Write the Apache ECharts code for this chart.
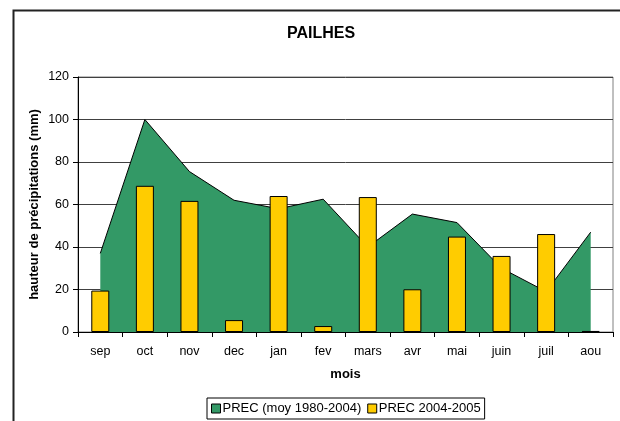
<!DOCTYPE html>
<html lang="fr">
<head>
<meta charset="utf-8">
<title>PAILHES</title>
<script src="https://cdn.jsdelivr.net/npm/echarts@6/dist/echarts.min.js"></script>
<style>
  html, body { margin: 0; padding: 0; background: #fff; }
  #main { width: 620px; height: 421px; }
</style>
</head>
<body>
<div id="main"></div>
<script type="text/javascript">
    // mois
    let months = ['sep', 'oct', 'nov', 'dec', 'jan', 'fev', 'mars', 'avr', 'mai', 'juin', 'juil', 'aou'];
    // PREC moyenne 1980-2004 (mm)
    let precMoy = [37, 100, 75.5, 62, 58, 62.5, 40, 55.5, 51.5, 30, 19, 47];
    // PREC 2004-2005 (mm)
    let prec0405 = [19.5, 68.8, 61.7, 5.6, 64, 2.8, 63.5, 20.1, 44.9, 35.8, 46.1, 0.5];

    let yTicks = { min: 0, max: 120, interval: 20 };

    let Chart = echarts.init(document.getElementById('main'));

    let labelFont = { fontFamily: '"Liberation Sans", Arial, sans-serif', color: '#000', fontSize: 12.5 };

    let option = {
        animation: false,
        backgroundColor: '#fff',
        textStyle: { fontFamily: '"Liberation Sans", Arial, sans-serif' },
        title: {
            text: 'PAILHES',
            left: 282,
            top: 21,
            textStyle: { fontSize: 16, fontWeight: 'bold', color: '#000', fontFamily: '"Liberation Sans", Arial, sans-serif' }
        },
        graphic: [{
            type: 'rect',
            left: 11, top: 8,
            shape: { width: 640, height: 440 },
            style: { fill: 'none', stroke: '#222', lineWidth: 2 },
            silent: true
        }],
        legend: {
            left: 207,
            top: 398,
            padding: [4, 4, 4, 4],
            itemGap: 6,
            itemWidth: 9,
            itemHeight: 9,
            borderColor: '#000',
            borderWidth: 1,
            textStyle: { fontSize: 13, color: '#000', padding: [0, 0, 0, -3] },
            data: [
                { name: 'PREC (moy 1980-2004)', icon: 'rect', itemStyle: { color: '#339966', borderColor: '#000', borderWidth: 1 } },
                { name: 'PREC 2004-2005', icon: 'rect', itemStyle: { color: '#FFCC00', borderColor: '#000', borderWidth: 1 } }
            ]
        },
        grid: {
            left: 78, right: 7, top: 77, bottom: 89,
            show: true, borderColor: '#808080', borderWidth: 1
        },
        xAxis: {
            type: 'category',
            data: months,
            boundaryGap: true,
            name: 'mois',
            nameLocation: 'middle',
            nameGap: 36,
            nameMoveOverlap: false,
            nameTextStyle: { fontWeight: 'bold', fontSize: 13, color: '#000' },
            axisLine: { lineStyle: { color: '#000', width: 1 } },
            axisTick: { show: true, length: 5, lineStyle: { color: '#000' } },
            axisLabel: Object.assign({ margin: 13 }, labelFont),
            splitLine: { show: false }
        },
        yAxis: {
            type: 'value',
            min: yTicks.min,
            max: yTicks.max,
            interval: yTicks.interval,
            name: 'hauteur de précipitations (mm)',
            nameLocation: 'middle',
            nameGap: 37,
            nameMoveOverlap: false,
            nameTextStyle: { fontWeight: 'bold', fontSize: 13, color: '#000' },
            axisLine: { show: true, lineStyle: { color: '#000', width: 1 } },
            axisTick: { show: true, length: 5, lineStyle: { color: '#000' } },
            axisLabel: Object.assign({ margin: 9 }, labelFont),
            splitLine: { show: true, lineStyle: { color: '#404040', width: 1 } }
        },
        series: [
            {
                name: 'PREC (moy 1980-2004)',
                type: 'line',
                data: precMoy,
                symbol: 'none',
                z: 2,
                lineStyle: { color: '#000', width: 1 },
                itemStyle: { color: '#339966' },
                areaStyle: { color: '#339966', opacity: 1 }
            },
            {
                name: 'PREC 2004-2005',
                type: 'bar',
                data: prec0405,
                barWidth: 18,
                z: 3,
                itemStyle: { color: '#FFCC00', borderColor: '#000', borderWidth: 1 }
            }
        ]
    };

    Chart.setOption(option);
</script>
</body>
</html>
